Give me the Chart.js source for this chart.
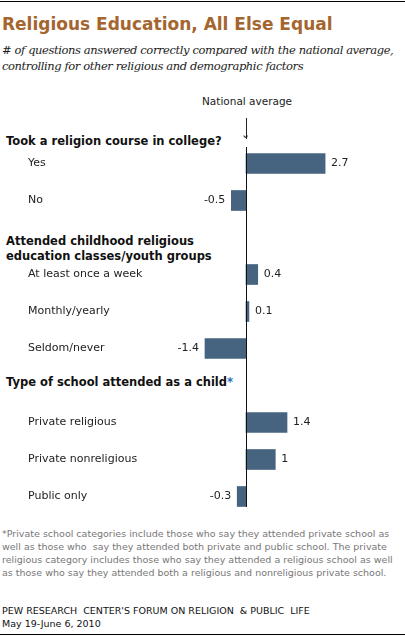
<!DOCTYPE html>
<html><head><meta charset="utf-8">
<script src="https://cdn.jsdelivr.net/npm/chart.js@4/dist/chart.umd.min.js"></script>
<style>
body{margin:0;width:405px;height:637px;position:relative;background:#fff;font-family:"DejaVu Sans",Verdana,sans-serif;overflow:hidden}
.t{position:absolute;white-space:nowrap}
.h{font-weight:bold;font-size:11.5px;color:#111;left:6px}
#wrap{position:absolute;left:0;top:144.5px;width:405px;height:370px}
</style></head><body>
<div style="position:absolute;left:0;top:1px;width:405px;border-top:1px solid #000"></div>
<div class="t" style="left:2px;top:14px;font-size:17px;font-weight:bold;color:#a5652f">Religious Education, All Else Equal</div>
<div class="t" style="left:2px;top:42px;font-family:'DejaVu Serif',serif;font-style:italic;font-size:11.5px;line-height:16px;color:#222;letter-spacing:-0.4px"># of questions answered correctly compared with the national average,<br>controlling for other religious and demographic factors</div>
<div class="t" style="left:202px;top:95px;font-size:10.5px;color:#222">National average</div>
<div style="position:absolute;left:246px;top:118px;width:1px;height:21px;background:#222"></div>
<div class="t" style="left:241px;top:129px;font-size:11px;color:#222;line-height:11px">⌄</div>
<div class="t h" style="top:134px">Took a religion course in college?</div>
<div class="t h" style="top:234px;line-height:15px">Attended childhood religious<br>education classes/youth groups</div>
<div class="t h" style="top:375px">Type of school attended as a child<span style="color:#2a6fb5">*</span></div>
<div id="wrap"><canvas id="c"></canvas></div>
<div class="t" style="left:2px;top:527px;font-size:9.5px;line-height:13px;color:#777">*Private school categories include those who say they attended private school as<br>well as those who &nbsp;say they attended both private and public school. The private<br>religious category includes those who say they attended a religious school as well<br>as those who say they attended both a religious and nonreligious private school.</div>
<div class="t" style="left:2px;top:604px;font-size:9.5px;line-height:13px;color:#111">PEW RESEARCH &nbsp;CENTER'S FORUM ON RELIGION &nbsp;&amp; PUBLIC &nbsp;LIFE<br>May 19-June 6, 2010</div>
<div style="position:absolute;left:0;top:634px;width:405px;border-top:1px solid #000"></div>
<script>
// rijen, lege labels zijn kopjes
const categories = ['Yes', 'No', '', 'At least once a week', 'Monthly/yearly', 'Seldom/never', '', 'Private religious', 'Private nonreligious', 'Public only'];
const values = [2.7, -0.5, null, 0.4, 0.1, -1.4, null, 1.4, 1, -0.3];
const valueLabels = ['2.7', '-0.5', '', '0.4', '0.1', '-1.4', '', '1.4', '1', '-0.3'];

const labelPlugin = {
    id: 'labels',
    afterDatasetsDraw(chart) {
        const ctx = chart.ctx;
        const x = chart.scales.x;
        const y = chart.scales.y;
        const x0 = x.getPixelForValue(0);
        ctx.save();
        ctx.strokeStyle = '#111';
        ctx.lineWidth = 1;
        ctx.beginPath();
        ctx.moveTo(Math.round(x0) + 0.5, chart.chartArea.top + 2);
        ctx.lineTo(Math.round(x0) + 0.5, chart.chartArea.bottom - 8);
        ctx.stroke();
        ctx.font = '11px "DejaVu Sans", sans-serif';
        ctx.textBaseline = 'middle';
        ctx.fillStyle = '#222';
        for (let i = 0; i < categories.length; i++) {
            const py = y.getPixelForValue(i);
            ctx.textAlign = 'left';
            ctx.fillText(categories[i], 28, py);
            if (values[i] === null) continue;
            const px = x.getPixelForValue(values[i]);
            if (values[i] >= 0) {
                ctx.textAlign = 'left';
                ctx.fillText(valueLabels[i], px + 6, py);
            } else {
                ctx.textAlign = 'right';
                ctx.fillText(valueLabels[i], px - 6, py);
            }
        }
        ctx.restore();
    }
};

new Chart(document.getElementById('c'), {
    type: 'bar',
    data: {
        labels: categories,
        datasets: [{
            data: values,
            backgroundColor: '#46637f',
            barThickness: 20,
            borderWidth: 0
        }]
    },
    options: {
        indexAxis: 'y',
        responsive: true,
        maintainAspectRatio: false,
        animation: false,
        layout: { padding: 0 },
        plugins: { legend: { display: false }, tooltip: { enabled: false } },
        scales: {
            x: { display: false, min: -246 / 29.3, max: (405 - 246) / 29.3 },
            y: { display: false }
        }
    },
    plugins: [labelPlugin]
});
</script>
</body></html>
